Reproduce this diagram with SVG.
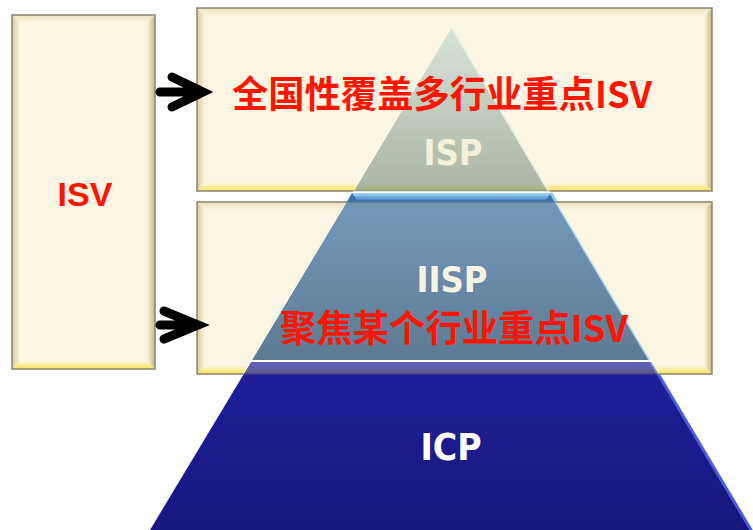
<svg xmlns="http://www.w3.org/2000/svg" xmlns:xlink="http://www.w3.org/1999/xlink" width="753" height="530" viewBox="0 0 753 530">
<style>
.cjk{font-family:"Noto Sans CJK SC","Noto Sans",sans-serif;font-weight:700;fill:#ff1400;text-anchor:middle}
.lat{font-family:"DejaVu Sans Condensed","DejaVu Sans",sans-serif;font-stretch:condensed;font-weight:700;text-anchor:middle}
.isv{font-family:"Liberation Sans",Arial,sans-serif;font-weight:700;fill:#ff1400;text-anchor:middle}
.frame{fill:none;stroke:#8a8470;stroke-width:1.5}
.arrow{fill:none;stroke:#000;stroke-width:9;stroke-linecap:round;stroke-linejoin:miter}
</style>
<defs>
<linearGradient id="gTop" x1="0" y1="0" x2="0" y2="1"><stop offset="0" stop-color="#ece2c0"/><stop offset="1" stop-color="#fbf5e3"/></linearGradient>
<linearGradient id="gBot" x1="0" y1="0" x2="0" y2="1"><stop offset="0" stop-color="#fbf6dc"/><stop offset="1" stop-color="#f4e458"/></linearGradient>
<linearGradient id="gLeft" x1="0" y1="0" x2="1" y2="0"><stop offset="0" stop-color="#d9c99c"/><stop offset="1" stop-color="#fbf5e3"/></linearGradient>
<linearGradient id="gRight" x1="0" y1="0" x2="1" y2="0"><stop offset="0" stop-color="#fbf5e3"/><stop offset="1" stop-color="#c6b585"/></linearGradient>
<linearGradient id="gIsp" x1="0" y1="0" x2="0" y2="1"><stop offset="0" stop-color="#c8ddd3"/><stop offset="1" stop-color="#889a8a"/></linearGradient>
<linearGradient id="gIisp" x1="0" y1="0" x2="0" y2="1"><stop offset="0" stop-color="#3b74ad"/><stop offset="1" stop-color="#1c4670"/></linearGradient>
<linearGradient id="gIispTop" x1="0" y1="0" x2="0" y2="1"><stop offset="0" stop-color="#a6dcf6"/><stop offset="1" stop-color="#4a88c8"/></linearGradient>
<linearGradient id="gIcp" x1="0" y1="0" x2="0" y2="1"><stop offset="0" stop-color="#1f1f9c"/><stop offset="1" stop-color="#16167a"/></linearGradient>

<g id="bx-top">
<rect x="197" y="8" width="515" height="183" fill="#fbf5e3"/>
<polygon points="197,8 712,8 704,16 205,16" fill="url(#gTop)"/>
<polygon points="205,183 704,183 712,191 197,191" fill="url(#gBot)"/>
<polygon points="197,8 205,16 205,183 197,191" fill="url(#gLeft)"/>
<polygon points="712,8 712,191 704,183 704,16" fill="url(#gRight)"/>
<rect x="197" y="8" width="515" height="183" class="frame"/>
</g>
<g id="bx-bot">
<rect x="197" y="202" width="515" height="172" fill="#fbf5e3"/>
<polygon points="197,202 712,202 704,210 205,210" fill="url(#gTop)"/>
<polygon points="205,366 704,366 712,374 197,374" fill="url(#gBot)"/>
<polygon points="197,202 205,210 205,366 197,374" fill="url(#gLeft)"/>
<polygon points="712,202 712,374 704,366 704,210" fill="url(#gRight)"/>
<rect x="197" y="202" width="515" height="172" class="frame"/>
</g>

<mask id="outPyr" maskUnits="userSpaceOnUse" x="0" y="0" width="753" height="530">
<rect x="0" y="0" width="753" height="530" fill="#fff"/>
<polygon points="452,27 144,540 757,540" fill="#000"/>
</mask>
<clipPath id="inPyr"><polygon points="452,27 144,540 757,540"/></clipPath>
</defs>

<!-- pyramid tiers -->
<g id="node-icp">
<polygon points="251,362 651,362 757,540 144,540" fill="url(#gIcp)"/>
<polyline points="651,362 757,540" fill="none" stroke="#4c5ce6" stroke-width="3"/>
<text class="lat" x="451" y="460" font-size="37" fill="#ffffff">ICP</text>
</g>
<g id="node-iisp">
<polygon points="352,193 551,193 650,360 252,360" fill="url(#gIisp)"/>
<polygon points="352,193 551,193 546,200 357,200" fill="url(#gIispTop)"/>
<polyline points="551,193 650,360" fill="none" stroke="#8ccaf0" stroke-width="3"/>
</g>
<g id="node-isp">
<polygon points="452,27 549,191 354,191" fill="url(#gIsp)"/>
<polyline points="452,27 549,191" fill="none" stroke="#e6efe6" stroke-width="3"/>
</g>

<!-- boxes -->
<g id="node-isv">
<rect x="12" y="15" width="143" height="354" fill="#fbf5e3"/>
<polygon points="12,15 155,15 147,23 20,23" fill="url(#gTop)"/>
<polygon points="20,361 147,361 155,369 12,369" fill="url(#gBot)"/>
<polygon points="12,15 20,23 20,361 12,369" fill="url(#gLeft)"/>
<polygon points="155,15 155,369 147,361 147,23" fill="url(#gRight)"/>
<rect x="12" y="15" width="143" height="354" class="frame"/>
<text class="isv" x="85" y="206" font-size="34">ISV</text>
</g>
<g id="node-national">
<use xlink:href="#bx-top" mask="url(#outPyr)"/>
<use xlink:href="#bx-top" clip-path="url(#inPyr)" opacity="0.3"/>
<text class="lat" x="453" y="165" font-size="36" fill="#f4f0da">ISP</text>
<text class="cjk" x="442" y="108" font-size="37" textLength="420" lengthAdjust="spacingAndGlyphs">全国性覆盖多行业重点ISV</text>
</g>
<g id="node-focused">
<use xlink:href="#bx-bot" mask="url(#outPyr)"/>
<use xlink:href="#bx-bot" clip-path="url(#inPyr)" opacity="0.3"/>
<text class="lat" x="452" y="292" font-size="36" fill="#f8f4e4">IISP</text>
<text class="cjk" x="454" y="342" font-size="37" textLength="348" lengthAdjust="spacingAndGlyphs">聚焦某个行业重点ISV</text>
</g>

<!-- connectors -->
<g id="connectors">
<path class="arrow" d="M160,92 H198 M172,77 L203,92 L172,107"/>
<path class="arrow" d="M160,325 H192 M164,311 L198,325 L164,339"/>
</g>
</svg>
